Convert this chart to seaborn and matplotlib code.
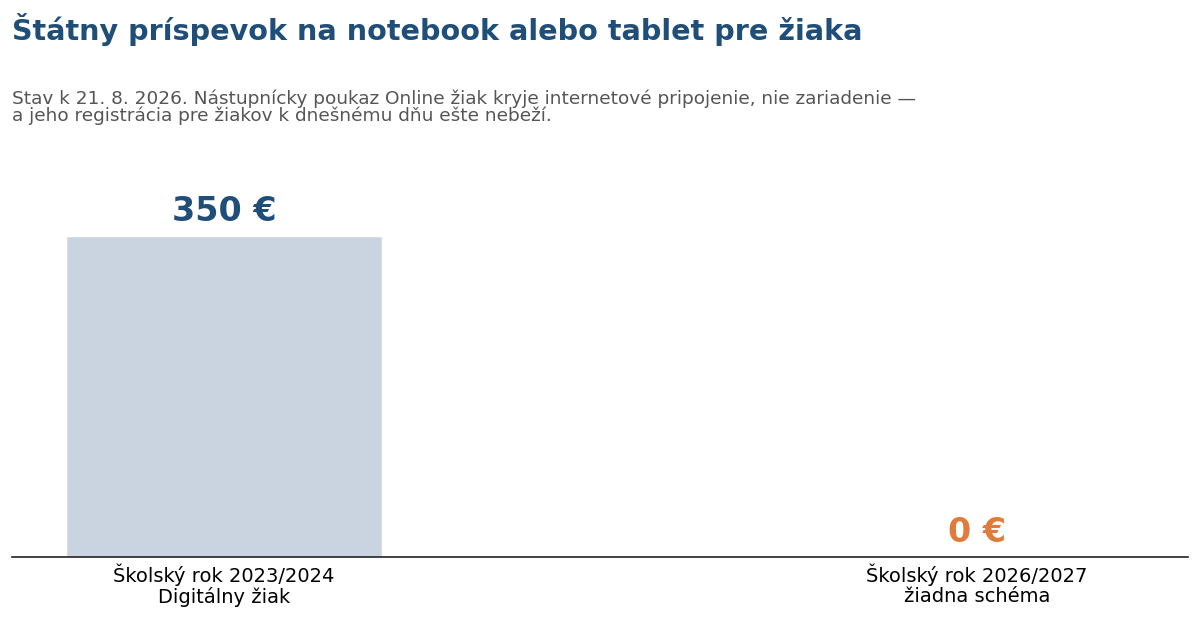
import pandas as pd
import seaborn as sns
import matplotlib.pyplot as plt

# data
categories = ["Školský rok 2023/2024\nDigitálny žiak", "Školský rok 2026/2027\nžiadna schéma"]
amounts = [350, 0]
value_labels = ["350 €", "0 €"]
label_colors = ["#1f4e79", "#e07b39"]

title = "Štátny príspevok na notebook alebo tablet pre žiaka"
subtitle = ("Stav k 21. 8. 2026. Nástupnícky poukaz Online žiak kryje internetové pripojenie, nie zariadenie —\n"
            "a jeho registrácia pre žiakov k dnešnému dňu ešte nebeží.")

df = pd.DataFrame({"obdobie": categories, "suma": amounts})

sns.set_theme(style="white")
plt.rcParams['font.family'] = ['DejaVu Sans']

fig = plt.figure(figsize=(12, 6.18), dpi=100)
ax = fig.add_axes([0.01, 0.0987, 0.98, 0.62])

sns.barplot(data=df, x="obdobie", y="suma", color="#cad4e1", width=0.42,
            saturation=1, ax=ax)

ax.set_xlim(-0.2815, 1.28)
ax.set_ylim(0, 418)

for i, (v, lab, c) in enumerate(zip(amounts, value_labels, label_colors)):
    ax.annotate(lab, (i, v), xytext=(0, 6), textcoords="offset points",
                ha="center", va="bottom", fontsize=24, fontweight="bold", color=c)

sns.despine(ax=ax, left=True, top=True, right=True)
ax.spines["bottom"].set_color("#222222")
ax.spines["bottom"].set_linewidth(1.2)
ax.set_yticks([])
ax.set_xlabel("")
ax.set_ylabel("")
ax.tick_params(axis="x", length=0, labelsize=14, colors="black", pad=5)
for t in ax.get_xticklabels():
    t.set_linespacing(1.05)

fig.text(0.01, 0.953, title, fontsize=20.6, fontweight="bold", color="#1f4e79",
         ha="left", va="center")
fig.text(0.01, 0.827, subtitle, fontsize=13.3, color="#555555",
         ha="left", va="center", linespacing=0.9)

fig.savefig("out.png", dpi=100)
